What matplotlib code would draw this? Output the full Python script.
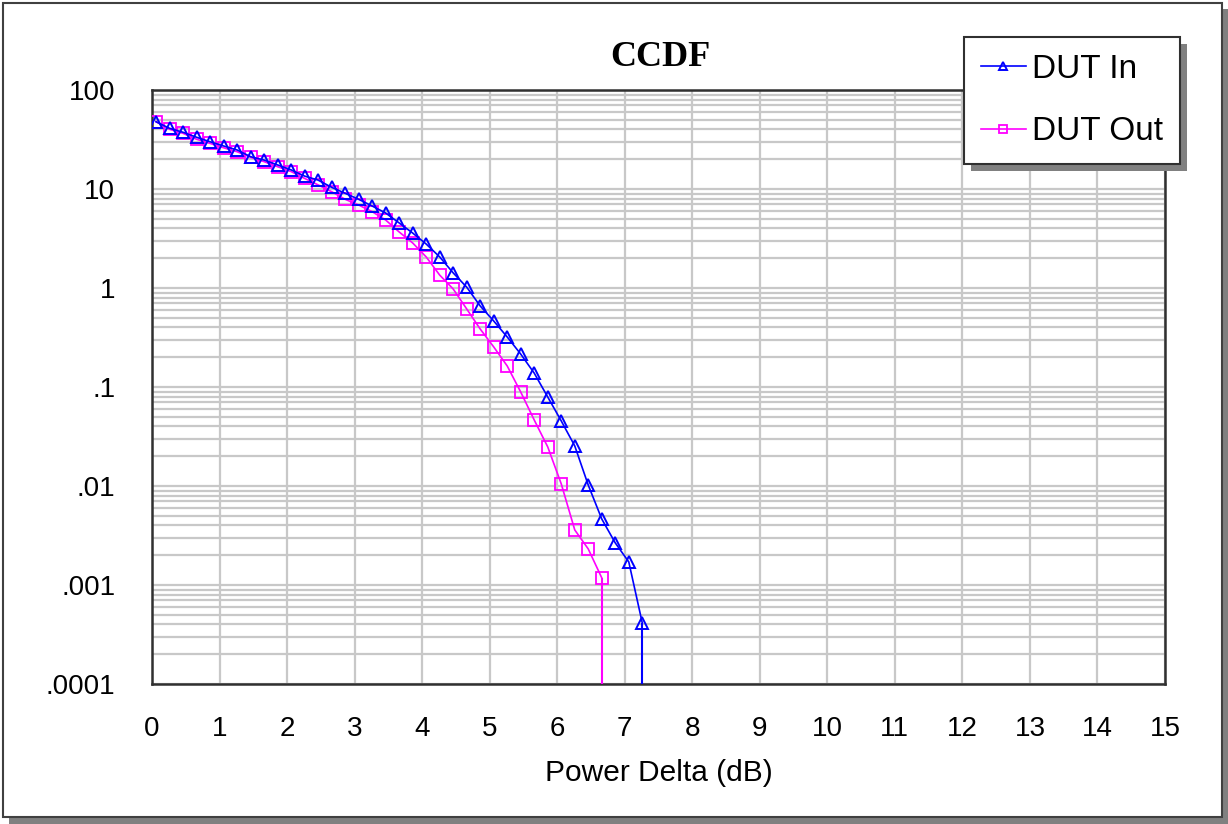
import matplotlib
matplotlib.use("Agg")
import matplotlib.pyplot as plt
from matplotlib.patches import Rectangle

# power delta (dB) sample points
x_in = [0.06, 0.26, 0.46, 0.66, 0.86, 1.06, 1.26, 1.46, 1.66, 1.86,
        2.06, 2.26, 2.46, 2.66, 2.86, 3.06, 3.26, 3.46, 3.66, 3.86,
        4.06, 4.26, 4.46, 4.66, 4.86, 5.06, 5.26, 5.46, 5.66, 5.86,
        6.06, 6.26, 6.46, 6.66, 6.86, 7.06, 7.26]
ccdf_in = [47.8, 41.0, 37.4, 33.3, 30.0, 27.2, 24.8, 21.2, 19.6, 17.5,
           15.6, 13.5, 12.3, 10.4, 9.05, 7.87, 6.73, 5.72, 4.54, 3.59,
           2.78, 2.06, 1.42, 1.02, 0.658, 0.464, 0.320, 0.215, 0.138, 0.0792,
           0.0454, 0.0254, 0.0102, 0.00464, 0.00266, 0.00171, 0.000413]

x_out = [0.06, 0.26, 0.46, 0.66, 0.86, 1.06, 1.26, 1.46, 1.66, 1.86,
         2.06, 2.26, 2.46, 2.66, 2.86, 3.06, 3.26, 3.46, 3.66, 3.86,
         4.06, 4.26, 4.46, 4.66, 4.86, 5.06, 5.26, 5.46, 5.66, 5.86,
         6.06, 6.26, 6.46, 6.66]
ccdf_out = [47.8, 40.1, 36.5, 31.8, 28.9, 26.1, 23.8, 20.9, 18.9, 16.8,
            15.0, 12.8, 11.0, 9.39, 7.87, 6.89, 5.90, 4.86, 3.68, 2.85,
            2.06, 1.35, 0.977, 0.614, 0.385, 0.254, 0.163, 0.0889, 0.0464, 0.0248,
            0.0105, 0.00360, 0.00231, 0.00118]

y_ticks = [1e2, 1e1, 1, 1e-1, 1e-2, 1e-3, 1e-4]
y_labels = ["100", "10", "1", ".1", ".01", ".001", ".0001"]
x_ticks = list(range(0, 16))

plt.rcParams['font.family'] = ['Liberation Sans', 'DejaVu Sans']

fig = plt.figure(figsize=(12.28, 8.24), dpi=100)
W, H = 1228, 824

# outer frame with drop shadow
fig.patches.append(Rectangle((9 / W, 0.0), 1219 / W, 815 / H, transform=fig.transFigure,
                             facecolor='#808080', edgecolor='none', zorder=-2))
fig.patches.append(Rectangle((3 / W, 7 / H), 1219 / W, 814 / H, transform=fig.transFigure,
                             facecolor='white', edgecolor='#404040', linewidth=1.5, zorder=-1))

ax = fig.add_axes([152 / W, 1 - 684 / H, 1013 / W, 594 / H])
ax.set_yscale('log')
ax.set_xlim(0, 15)
ax.set_ylim(1e-4, 1e2)

ax.plot(x_in, ccdf_in, color='#0000ff', lw=1.2, marker='^', ms=8.5, mfc='none',
        mew=1.4, label='DUT In', zorder=4)
ax.plot(x_out, ccdf_out, color='#ff00ff', lw=1.2, marker='s', ms=9, mfc='none',
        mew=1.3, label='DUT Out', zorder=3)
ax.vlines(x_in[-1], 1e-4, ccdf_in[-1], color='#0000ff', lw=1.5, zorder=4)
ax.vlines(x_out[-1], 1e-4, ccdf_out[-1], color='#ff00ff', lw=1.5, zorder=3)

ax.set_xticks(x_ticks)
ax.set_yticks(y_ticks)
ax.set_yticklabels(y_labels)
ax.minorticks_off()
ax.set_yticks([m * 10.0 ** e for e in range(-4, 2) for m in range(2, 10)], minor=True)
ax.tick_params(axis='both', which='both', length=0, labelsize=20)
ax.tick_params(axis='y', pad=26.5)
ax.tick_params(axis='x', pad=23)
ax.grid(True, which='major', color='#c8c8c8', lw=1.6)
ax.grid(True, which='minor', axis='y', color='#c8c8c8', lw=1.6)
ax.set_axisbelow(True)
for s in ax.spines.values():
    s.set_color('#303030')
    s.set_linewidth(1.8)

ax.set_xlabel('Power Delta (dB)', fontsize=21.5, labelpad=12)
fig.text(660 / W, 1 - 57 / H, 'CCDF', ha='center', va='center', fontsize=26,
         fontweight='bold', family=['Liberation Serif', 'DejaVu Serif'])

leg = ax.legend(loc='upper left', bbox_to_anchor=(964 / W, 1 - 37 / H),
                bbox_transform=fig.transFigure, fontsize=24, frameon=True,
                fancybox=False, shadow=False, framealpha=1,
                edgecolor='#303030', borderpad=0.5, labelspacing=0.95,
                handlelength=1.35, handletextpad=0.2, borderaxespad=0, markerscale=0.6)
leg.get_frame().set_linewidth(1.5)
leg.set_zorder(10)

# legend drop shadow, offset a few pixels right and down
fig.canvas.draw()
bb = leg.get_window_extent()
shadow = Rectangle((bb.x0 + 7, bb.y0 - 7), bb.width, bb.height, transform=None,
                   facecolor='#808080', edgecolor='none', zorder=9, clip_on=False)
ax.add_artist(shadow)

fig.savefig('out.png', dpi=100)
